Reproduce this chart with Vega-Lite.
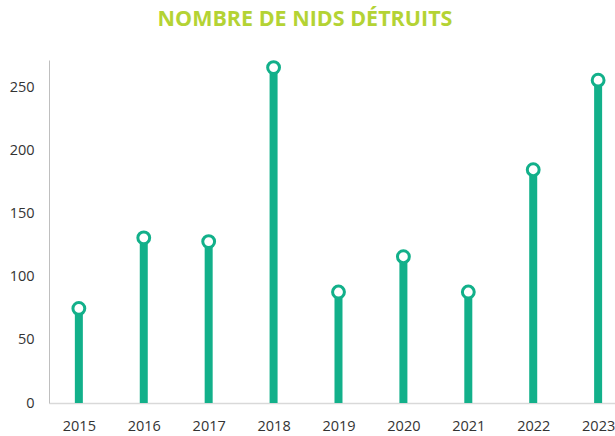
{
  "$schema": "https://vega.github.io/schema/vega-lite/v6.json",
  "autosize": {"type": "none"},
  "width": 566,
  "height": 343,
  "padding": {"left": 49, "top": 60, "right": 0, "bottom": 33},
  "background": "white",
  "title": {
    "text": "NOMBRE DE NIDS DÉTRUITS",
    "font": "Open Sans",
    "fontSize": 21.5,
    "fontWeight": "bold",
    "color": "#B4D334",
    "anchor": "middle",
    "dx": -27,
    "offset": 25
  },
  "config": {
    "view": {"stroke": null},
    "axis": {
      "labelFont": "Open Sans",
      "labelFontSize": 14.5,
      "labelColor": "#333333",
      "grid": false,
      "ticks": false,
      "title": null
    }
  },
  "data": {
    "values": [
      {"annee": 2015, "nids": 75},
      {"annee": 2016, "nids": 131},
      {"annee": 2017, "nids": 128},
      {"annee": 2018, "nids": 266},
      {"annee": 2019, "nids": 88},
      {"annee": 2020, "nids": 116},
      {"annee": 2021, "nids": 88},
      {"annee": 2022, "nids": 185},
      {"annee": 2023, "nids": 256}
    ]
  },
  "encoding": {
    "x": {
      "field": "annee",
      "type": "quantitative",
      "scale": {"domain": [2014.54, 2023.26], "nice": false, "zero": false},
      "axis": {
        "values": [2015, 2016, 2017, 2018, 2019, 2020, 2021, 2022, 2023],
        "format": "d",
        "domainColor": "#D9D9D9",
        "domainWidth": 1.5,
        "labelPadding": 16,
        "labelFlush": false
      }
    },
    "y": {
      "field": "nids",
      "type": "quantitative",
      "scale": {"domain": [0, 272], "nice": false},
      "axis": {
        "values": [0, 50, 100, 150, 200, 250],
        "domainColor": "#BFBFBF",
        "labelPadding": 15
      }
    }
  },
  "layer": [
    {
      "mark": {"type": "rule", "color": "#12B08A", "strokeWidth": 8},
      "encoding": {"y2": {"datum": 0}}
    },
    {
      "mark": {"type": "point", "shape": "circle", "filled": true, "fill": "white", "stroke": "#12B08A", "strokeWidth": 3, "size": 140, "opacity": 1}
    }
  ]
}
